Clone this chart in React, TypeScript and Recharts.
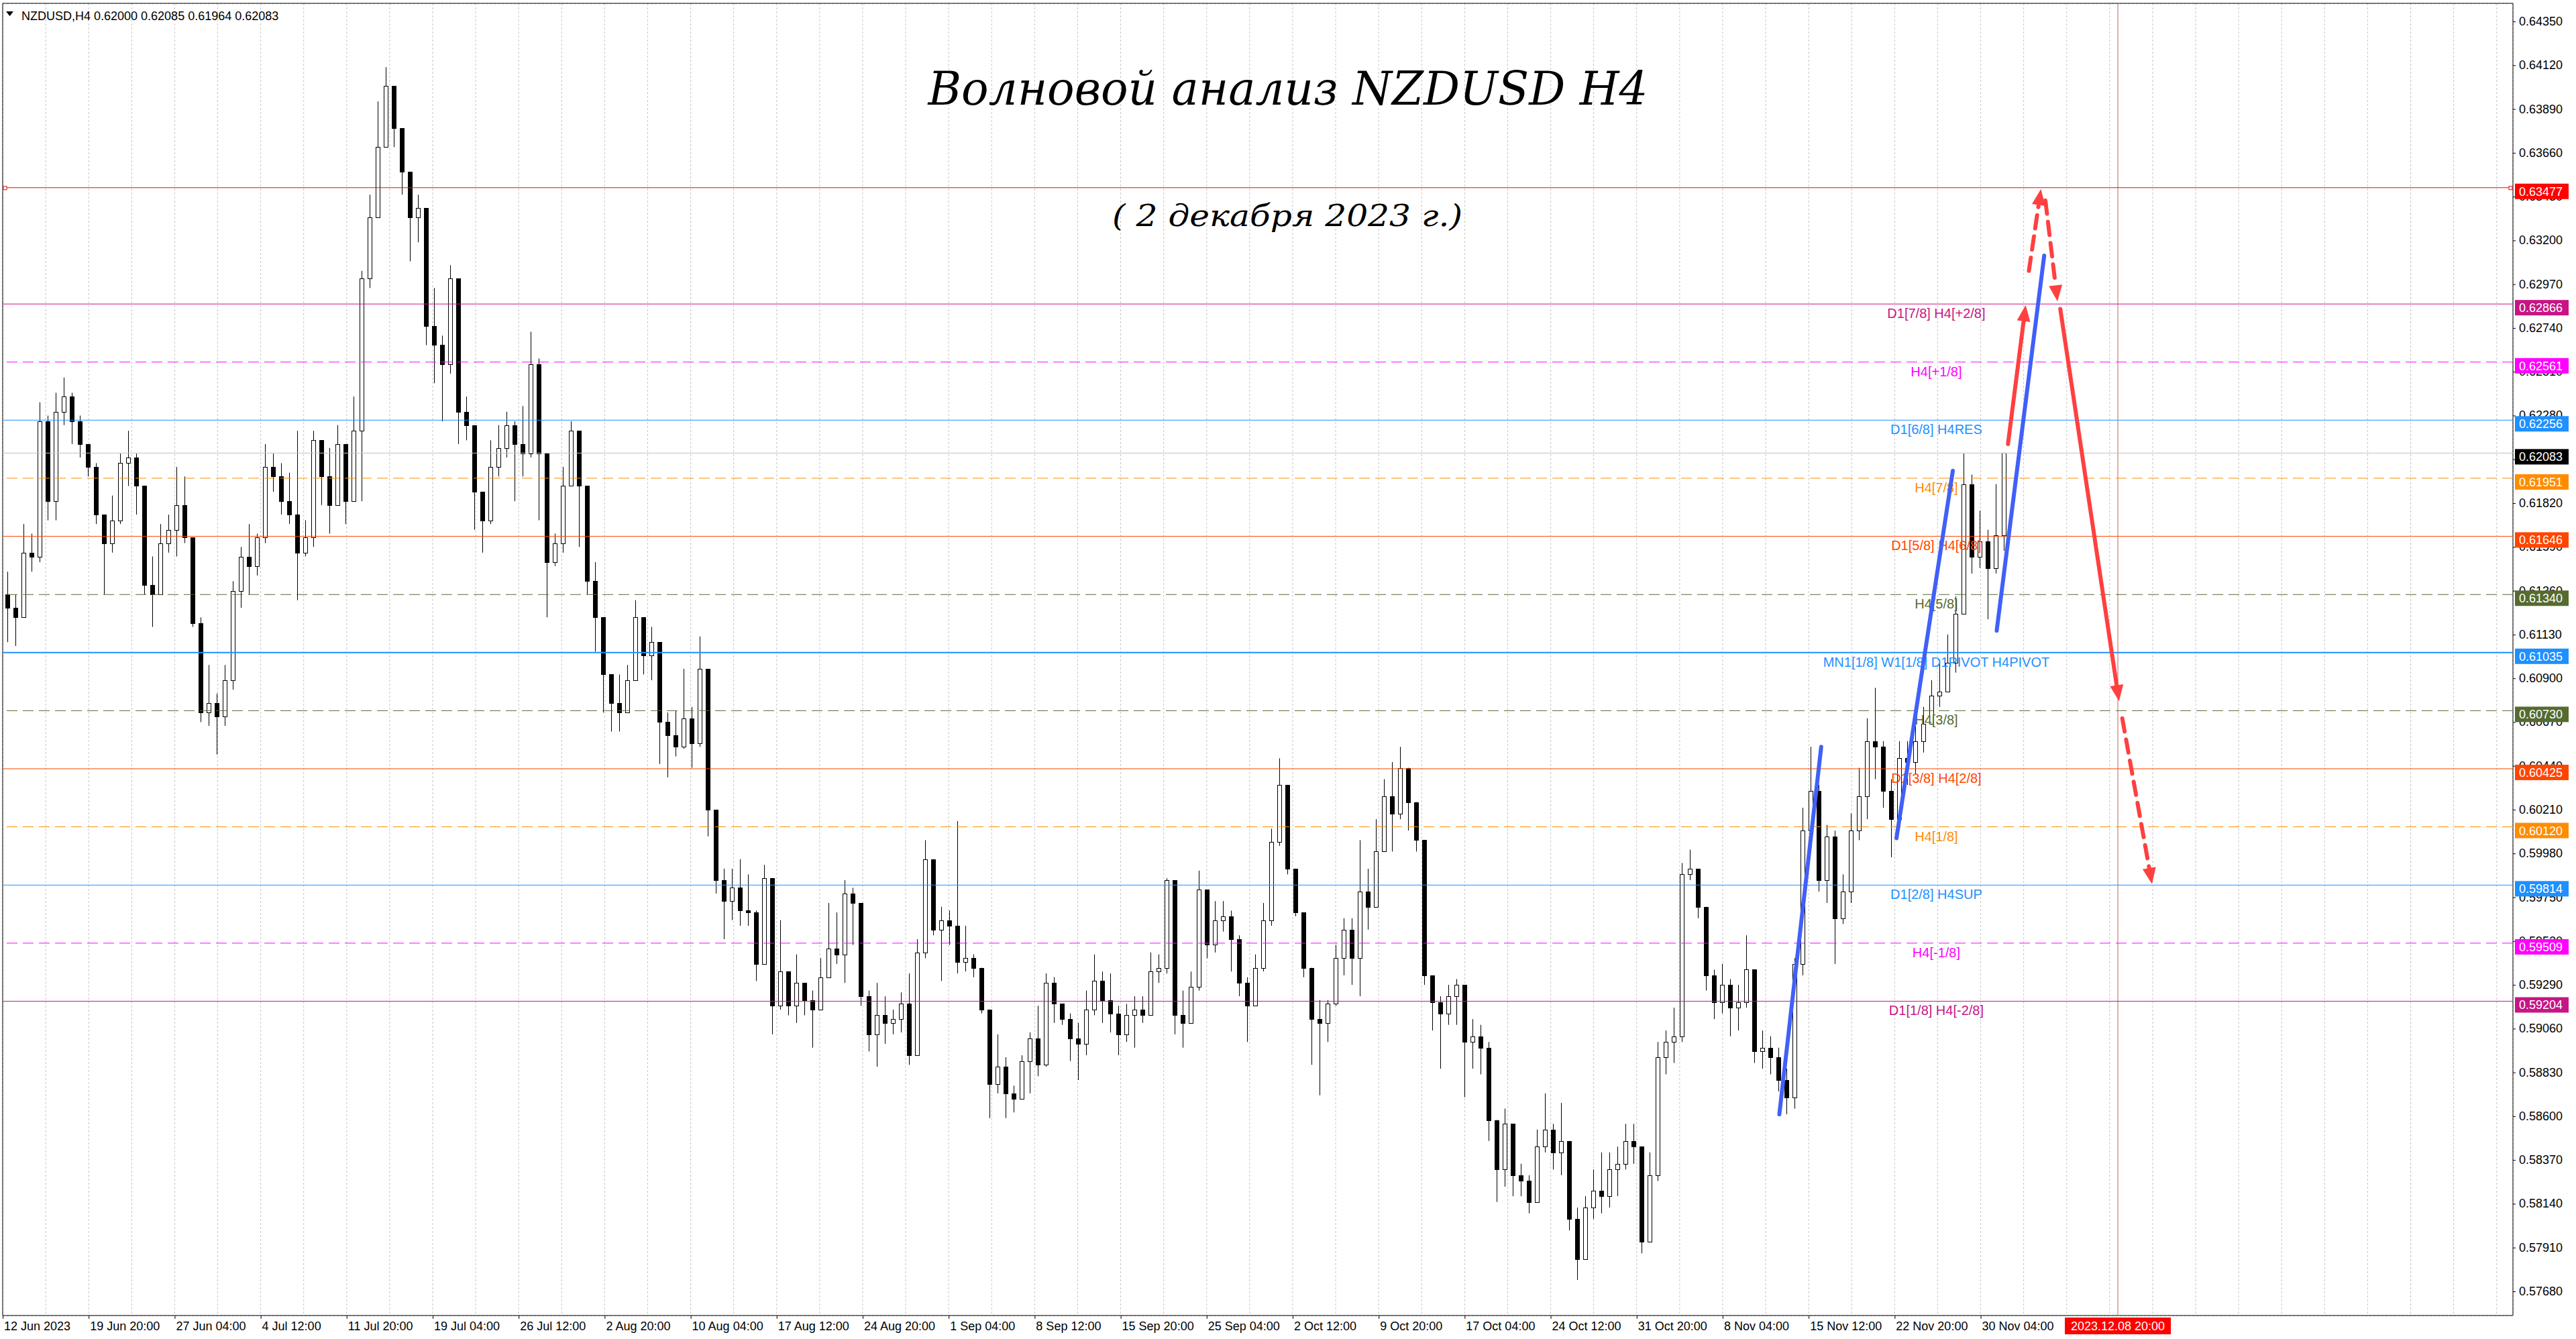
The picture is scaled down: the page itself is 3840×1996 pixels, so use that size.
import React from 'react'
import {
  ComposedChart,
  Bar,
  XAxis,
  YAxis,
  CartesianGrid,
  ReferenceLine,
  ReferenceArea,
} from 'recharts'

const W = 3840
const H = 1996
const FONT = '"Liberation Sans", Arial, sans-serif'

// price window of the terminal and 12h slots across the plot
const P_MIN = 0.575532
const P_MAX = 0.644451
const X_MAX = 311.83
const GRID_STEP = 5.3415
const LABEL_SLOT = 240.2

const SYMBOL = 'NZDUSD,H4'
const LAST_BAR_OHLC = ['0.62000', '0.62085', '0.61964', '0.62083']

// one candle = 12 hours
const OPEN_FIRST = 0.6134
const CLOSES = [
  0.6127, 0.6122, 0.6156, 0.6154, 0.6225, 0.6183, 0.6230, 0.6238, 0.6225, 0.6213,
  0.6201, 0.6176, 0.6161, 0.6173, 0.6203, 0.6206, 0.6191, 0.6139, 0.6134, 0.6161,
  0.6168, 0.6181, 0.6164, 0.6119, 0.6072, 0.6077, 0.6070, 0.6089, 0.6136, 0.6154,
  0.6149, 0.6164, 0.6201, 0.6196, 0.6183, 0.6176, 0.6156, 0.6164, 0.6215, 0.6196,
  0.6181, 0.6213, 0.6183, 0.6220, 0.6300, 0.6332, 0.6369, 0.6401, 0.6379, 0.6356,
  0.6332, 0.6337, 0.6275, 0.6265, 0.6255, 0.6300, 0.6230, 0.6223, 0.6188, 0.6173,
  0.6201, 0.6211, 0.6223, 0.6213, 0.6208, 0.6255, 0.6208, 0.6151, 0.6161, 0.6191,
  0.6220, 0.6191, 0.6141, 0.6122, 0.6092, 0.6077, 0.6072, 0.6089, 0.6122, 0.6102,
  0.6109, 0.6067, 0.6060, 0.6054, 0.6069, 0.6056, 0.6095, 0.6021, 0.5984, 0.5973,
  0.5980, 0.5968, 0.5967, 0.5940, 0.5985, 0.5918, 0.5936, 0.5918, 0.5930, 0.5921,
  0.5916, 0.5933, 0.5948, 0.5945, 0.5977, 0.5972, 0.5923, 0.5903, 0.5913, 0.5909,
  0.5911, 0.5919, 0.5892, 0.5946, 0.5995, 0.5958, 0.5963, 0.5960, 0.5941, 0.5943,
  0.5938, 0.5916, 0.5877, 0.5886, 0.5872, 0.5869, 0.5889, 0.5901, 0.5887, 0.5930,
  0.5919, 0.5911, 0.5901, 0.5898, 0.5916, 0.5931, 0.5921, 0.5914, 0.5903, 0.5913,
  0.5916, 0.5913, 0.5936, 0.5938, 0.5984, 0.5913, 0.5909, 0.5928, 0.5979, 0.5950,
  0.5963, 0.5965, 0.5953, 0.5930, 0.5918, 0.5938, 0.5963, 0.6004, 0.6034, 0.5990,
  0.5967, 0.5938, 0.5911, 0.5909, 0.5919, 0.5943, 0.5958, 0.5943, 0.5978, 0.5970,
  0.5999, 0.6028, 0.6019, 0.6043, 0.6025, 0.6005, 0.5934, 0.5920, 0.5914, 0.5923,
  0.5929, 0.5899, 0.5902, 0.5896, 0.5858, 0.5832, 0.5856, 0.5829, 0.5826, 0.5815,
  0.5844, 0.5853, 0.5841, 0.5847, 0.5806, 0.5785, 0.5812, 0.5821, 0.5818, 0.5832,
  0.5835, 0.5847, 0.5844, 0.5794, 0.5829, 0.5891, 0.5899, 0.5902, 0.5987, 0.5990,
  0.5970, 0.5934, 0.5920, 0.5929, 0.5917, 0.5920, 0.5937, 0.5894, 0.5896, 0.5891,
  0.5879, 0.5870, 0.5940, 0.6010, 0.6031, 0.5984, 0.6007, 0.5964, 0.5978, 0.6010,
  0.6028, 0.6057, 0.6054, 0.6031, 0.6016, 0.6048, 0.6046, 0.6057, 0.6066, 0.6081,
  0.6083, 0.6098, 0.6124, 0.6192, 0.6154, 0.6162, 0.6148, 0.6165, 0.62083,
]
const HIGHS = [
  0.6146, 0.6134, 0.6171, 0.6166, 0.6235, 0.6228, 0.6240, 0.6248, 0.6240, 0.6228,
  0.6208, 0.6203, 0.6173, 0.6186, 0.6208, 0.6220, 0.6208, 0.6191, 0.6154, 0.6171,
  0.6176, 0.6201, 0.6196, 0.6164, 0.6122, 0.6097, 0.6082, 0.6097, 0.6141, 0.6159,
  0.6171, 0.6166, 0.6213, 0.6208, 0.6203, 0.6198, 0.6220, 0.6173, 0.6220, 0.6213,
  0.6211, 0.6223, 0.6201, 0.6238, 0.6304, 0.6344, 0.6393, 0.6411, 0.6393, 0.6369,
  0.6344, 0.6344, 0.6337, 0.6295, 0.6270, 0.6307, 0.6285, 0.6238, 0.6201, 0.6186,
  0.6215, 0.6223, 0.6230, 0.6225, 0.6233, 0.6272, 0.6258, 0.6176, 0.6166, 0.6201,
  0.6225, 0.6211, 0.6164, 0.6151, 0.6104, 0.6089, 0.6092, 0.6097, 0.6131, 0.6114,
  0.6117, 0.6097, 0.6072, 0.6073, 0.6095, 0.6075, 0.6112, 0.6095, 0.6017, 0.5990,
  0.5990, 0.5995, 0.5987, 0.5968, 0.5992, 0.5952, 0.5963, 0.5936, 0.5945, 0.5930,
  0.5926, 0.5943, 0.5972, 0.5967, 0.5984, 0.5980, 0.5950, 0.5926, 0.5930, 0.5923,
  0.5916, 0.5925, 0.5935, 0.5953, 0.6005, 0.5977, 0.5970, 0.5968, 0.6015, 0.5960,
  0.5945, 0.5938, 0.5916, 0.5903, 0.5891, 0.5876, 0.5892, 0.5904, 0.5918, 0.5935,
  0.5933, 0.5919, 0.5914, 0.5909, 0.5926, 0.5945, 0.5936, 0.5935, 0.5918, 0.5919,
  0.5923, 0.5923, 0.5946, 0.5945, 0.5985, 0.5963, 0.5926, 0.5936, 0.5989, 0.5973,
  0.5973, 0.5973, 0.5968, 0.5955, 0.5933, 0.5945, 0.5972, 0.6011, 0.6048, 0.6007,
  0.5984, 0.5953, 0.5936, 0.5921, 0.5921, 0.5950, 0.5964, 0.5964, 0.6005, 0.5990,
  0.6016, 0.6037, 0.6046, 0.6054, 0.6040, 0.6022, 0.6005, 0.5929, 0.5923, 0.5929,
  0.5932, 0.5929, 0.5911, 0.5908, 0.5899, 0.5856, 0.5864, 0.5841, 0.5835, 0.5829,
  0.5853, 0.5872, 0.5856, 0.5867, 0.5847, 0.5812, 0.5818, 0.5832, 0.5841, 0.5841,
  0.5844, 0.5856, 0.5856, 0.5844, 0.5841, 0.5899, 0.5905, 0.5917, 0.5993, 0.6000,
  0.5990, 0.5970, 0.5937, 0.5940, 0.5932, 0.5929, 0.5955, 0.5937, 0.5905, 0.5902,
  0.5896, 0.5885, 0.5943, 0.6022, 0.6054, 0.6034, 0.6013, 0.6010, 0.5987, 0.6019,
  0.6043, 0.6069, 0.6085, 0.6057, 0.6037, 0.6057, 0.6057, 0.6066, 0.6075, 0.6089,
  0.6098, 0.6113, 0.6133, 0.6208, 0.6197, 0.6178, 0.6168, 0.6192, 0.62085,
]
const LOWS = [
  0.6109, 0.6107, 0.6122, 0.6146, 0.6151, 0.6173, 0.6173, 0.6223, 0.6213, 0.6206,
  0.6196, 0.6171, 0.6134, 0.6156, 0.6171, 0.6191, 0.6176, 0.6134, 0.6117, 0.6134,
  0.6156, 0.6154, 0.6161, 0.6117, 0.6067, 0.6065, 0.6050, 0.6065, 0.6084, 0.6127,
  0.6134, 0.6144, 0.6161, 0.6188, 0.6176, 0.6171, 0.6131, 0.6154, 0.6159, 0.6181,
  0.6166, 0.6186, 0.6171, 0.6196, 0.6183, 0.6295, 0.6344, 0.6369, 0.6369, 0.6344,
  0.6309, 0.6319, 0.6265, 0.6245, 0.6225, 0.6250, 0.6213, 0.6215, 0.6168, 0.6156,
  0.6171, 0.6196, 0.6206, 0.6183, 0.6196, 0.6206, 0.6173, 0.6122, 0.6149, 0.6156,
  0.6196, 0.6159, 0.6134, 0.6104, 0.6072, 0.6062, 0.6062, 0.6075, 0.6097, 0.6092,
  0.6089, 0.6045, 0.6038, 0.6049, 0.6053, 0.6043, 0.6054, 0.6007, 0.5977, 0.5953,
  0.5963, 0.5960, 0.5960, 0.5931, 0.5950, 0.5903, 0.5916, 0.5913, 0.5909, 0.5913,
  0.5896, 0.5919, 0.5933, 0.5940, 0.5930, 0.5950, 0.5918, 0.5894, 0.5886, 0.5898,
  0.5903, 0.5904, 0.5887, 0.5940, 0.5943, 0.5955, 0.5931, 0.5950, 0.5935, 0.5936,
  0.5933, 0.5914, 0.5859, 0.5872, 0.5859, 0.5862, 0.5876, 0.5872, 0.5881, 0.5886,
  0.5909, 0.5908, 0.5889, 0.5879, 0.5892, 0.5913, 0.5909, 0.5904, 0.5892, 0.5899,
  0.5896, 0.5909, 0.5923, 0.5930, 0.5935, 0.5903, 0.5896, 0.5918, 0.5926, 0.5943,
  0.5946, 0.5957, 0.5936, 0.5923, 0.5899, 0.5926, 0.5936, 0.5960, 0.6002, 0.5987,
  0.5965, 0.5933, 0.5887, 0.5871, 0.5899, 0.5918, 0.5934, 0.5929, 0.5923, 0.5958,
  0.5970, 0.6007, 0.5999, 0.6016, 0.6010, 0.5999, 0.5929, 0.5905, 0.5885, 0.5908,
  0.5908, 0.5870, 0.5885, 0.5882, 0.5847, 0.5815, 0.5823, 0.5818, 0.5818, 0.5809,
  0.5815, 0.5841, 0.5832, 0.5829, 0.5800, 0.5774, 0.5788, 0.5806, 0.5809, 0.5812,
  0.5818, 0.5832, 0.5835, 0.5788, 0.5806, 0.5826, 0.5882, 0.5888, 0.5899, 0.5984,
  0.5964, 0.5926, 0.5911, 0.5914, 0.5902, 0.5905, 0.5917, 0.5888, 0.5885, 0.5882,
  0.5873, 0.5861, 0.5864, 0.5934, 0.6010, 0.5978, 0.5972, 0.5940, 0.5961, 0.5972,
  0.6005, 0.6016, 0.6037, 0.6022, 0.5996, 0.6013, 0.6034, 0.6040, 0.6051, 0.6066,
  0.6075, 0.6083, 0.6093, 0.6124, 0.6145, 0.6148, 0.6121, 0.6145, 0.6157,
]

const PRICE_TICKS = [
  0.5768, 0.5791, 0.5814, 0.5837, 0.586, 0.5883, 0.5906, 0.5929, 0.5952, 0.5975,
  0.5998, 0.6021, 0.6044, 0.6067, 0.609, 0.6113, 0.6136, 0.6159, 0.6182, 0.6205,
  0.6228, 0.6251, 0.6274, 0.6297, 0.632, 0.6343, 0.6366, 0.6389, 0.6412, 0.6435,
]

const TIME_LABELS = [
  '12 Jun 2023', '19 Jun 20:00', '27 Jun 04:00', '4 Jul 12:00', '11 Jul 20:00',
  '19 Jul 04:00', '26 Jul 12:00', '2 Aug 20:00', '10 Aug 04:00', '17 Aug 12:00',
  '24 Aug 20:00', '1 Sep 04:00', '8 Sep 12:00', '15 Sep 20:00', '25 Sep 04:00',
  '2 Oct 12:00', '9 Oct 20:00', '17 Oct 04:00', '24 Oct 12:00', '31 Oct 20:00',
  '8 Nov 04:00', '15 Nov 12:00', '22 Nov 20:00', '30 Nov 04:00',
]
const FUTURE_SLOT = 262.75
const FUTURE_LABEL = '2023.12.08 20:00'

// murrey levels
const LEVEL_PRICES = [
  0.63477, 0.62866, 0.62561, 0.62256, 0.61951, 0.61646, 0.6134,
  0.61035, 0.6073, 0.60425, 0.6012, 0.59814, 0.59509, 0.59204,
]
const LEVEL_TEXTS = [
  '', 'D1[7/8] H4[+2/8]', 'H4[+1/8]', 'D1[6/8] H4RES', 'H4[7/8]', 'D1[5/8] H4[6/8]', 'H4[5/8]',
  'MN1[1/8] W1[1/8] D1PIVOT H4PIVOT', 'H4[3/8]', 'D1[3/8] H4[2/8]', 'H4[1/8]', 'D1[2/8] H4SUP',
  'H4[-1/8]', 'D1[1/8] H4[-2/8]',
]
const LEVEL_STYLES = [
  { color: '#FF0000', dash: false, w: 1 },
  { color: '#C71585', dash: false, w: 1 },
  { color: '#FF00FF', dash: true, w: 1 },
  { color: '#1E90FF', dash: false, w: 1 },
  { color: '#FF8C00', dash: true, w: 1 },
  { color: '#FF4500', dash: false, w: 1 },
  { color: '#556B2F', dash: true, w: 1 },
  { color: '#1E90FF', dash: false, w: 2 },
  { color: '#556B2F', dash: true, w: 1 },
  { color: '#FF4500', dash: false, w: 1 },
  { color: '#FF8C00', dash: true, w: 1 },
  { color: '#1E90FF', dash: false, w: 1 },
  { color: '#FF00FF', dash: true, w: 1 },
  { color: '#C71585', dash: false, w: 1 },
]

// hand drawn wave marks: [slot1, price1, slot2, price2]
const BLUE_WAVES = [
  [220.7, 0.5861, 225.9, 0.6054],
  [235.25, 0.6006, 242.25, 0.6199],
  [247.7, 0.6115, 253.6, 0.6312],
]
const RED_ARROWS = [
  [249.1, 0.6213, 251.3, 0.6286],
  [255.6, 0.6284, 262.9, 0.6078],
]
const RED_DASHED_ARROWS = [
  [251.7, 0.6304, 253.2, 0.6347],
  [253.75, 0.6341, 255.25, 0.6288],
  [263.3, 0.6069, 267.0, 0.5982],
]

const rows = CLOSES.map((close, i) => {
  const open = i === 0 ? OPEN_FIRST : CLOSES[i - 1]
  const high = Math.max(HIGHS[i], open, close)
  const low = Math.min(LOWS[i], open, close)
  return { slot: i + 0.5, open, close, high, low, range: [low, high] }
})

const gridSlots = Array.from({ length: 59 }, (_, j) => +(j * GRID_STEP).toFixed(4))

function Candle(props: any) {
  const { x, y, width, height, payload } = props
  if (x == null || !payload) return null
  const { open, close, high, low } = payload
  const h = Math.abs(height)
  const top = Math.min(y, y + height)
  const k = high - low > 0 ? h / (high - low) : 0
  const yOf = (p: number) => top + (high - p) * k
  const cx = Math.round(x + width / 2) + 0.5
  const bTop = Math.round(yOf(Math.max(open, close))) + 0.5
  const bBot = Math.round(yOf(Math.min(open, close))) + 0.5
  const up = close >= open
  return (
    <g>
      <line x1={cx} x2={cx} y1={top} y2={top + h} stroke="#000" strokeWidth={1} />
      <rect
        x={cx - 3}
        y={bTop}
        width={6}
        height={Math.max(1, bBot - bTop)}
        fill={up ? '#fff' : '#000'}
        stroke="#000"
        strokeWidth={1}
      />
    </g>
  )
}

function TimeTick(props: any) {
  const { x, y, payload } = props
  const j = Math.round(payload.value / GRID_STEP)
  if (j % 2 !== 0 || j / 2 >= TIME_LABELS.length) return null
  return (
    <g>
      <line x1={x + 0.5} x2={x + 0.5} y1={y} y2={y + 5} stroke="#000" />
      <text x={x + 2} y={y + 22} fontSize={18} fontFamily={FONT} fill="#000">
        {TIME_LABELS[j / 2]}
      </text>
    </g>
  )
}

// price scale labels, drawn under the coloured level boxes
const priceTickLabel = (p: number) => (lp: any) => {
  const vb = lp && lp.viewBox
  if (!vb) return null
  const right = vb.x + vb.width
  return (
    <g>
      <line x1={right} x2={right + 4} y1={vb.y + 0.5} y2={vb.y + 0.5} stroke="#000" />
      <text x={right + 9} y={vb.y + 6} fontSize={18} fontFamily={FONT} fill="#000">
        {p.toFixed(5)}
      </text>
    </g>
  )
}

const levelLabel = (i: number) => (lp: any) => {
  const vb = lp && lp.viewBox
  if (!vb) return null
  const { x, y, width } = vb
  const st = LEVEL_STYLES[i]
  const right = x + width
  const cx = x + (LABEL_SLOT / X_MAX) * width
  return (
    <g>
      {LEVEL_TEXTS[i] ? (
        <text x={cx} y={y + 21} textAnchor="middle" fontSize={20} fontFamily={FONT} fill={st.color}>
          {LEVEL_TEXTS[i]}
        </text>
      ) : null}
      {i === 0 ? (
        <g>
          <rect x={x + 1} y={y - 2} width={5} height={5} fill="#fff" stroke={st.color} />
          <rect x={right - 6} y={y - 2} width={5} height={5} fill="#fff" stroke={st.color} />
        </g>
      ) : null}
      <rect x={right + 3} y={y - 6} width={80} height={23} fill={st.color} />
      <text x={right + 9} y={y + 12} fontSize={18} fontFamily={FONT} fill="#fff">
        {LEVEL_PRICES[i].toFixed(5)}
      </text>
    </g>
  )
}

const bidLabel = (lp: any) => {
  const vb = lp && lp.viewBox
  if (!vb) return null
  const right = vb.x + vb.width
  return (
    <g>
      <rect x={right + 3} y={vb.y - 6} width={80} height={23} fill="#000" />
      <text x={right + 9} y={vb.y + 12} fontSize={18} fontFamily={FONT} fill="#fff">
        {CLOSES[CLOSES.length - 1].toFixed(5)}
      </text>
    </g>
  )
}

const futureLabel = (lp: any) => {
  const vb = lp && lp.viewBox
  if (!vb) return null
  const bottom = vb.y + vb.height
  return (
    <g>
      <rect x={vb.x - 79} y={bottom + 3} width={158} height={25} fill="#FF0000" />
      <text x={vb.x} y={bottom + 22} textAnchor="middle" fontSize={18} fontFamily={FONT} fill="#fff">
        {FUTURE_LABEL}
      </text>
    </g>
  )
}

const arrowShape = (color: string, dashed: boolean, head: boolean) => (p: any) => {
  const { x1, y1, x2, y2 } = p
  if (x1 == null) return null
  const dx = x2 - x1
  const dy = y2 - y1
  const len = Math.sqrt(dx * dx + dy * dy) || 1
  const ux = dx / len
  const uy = dy / len
  const L = head ? 24 : 0
  const bx = x2 - ux * L
  const by = y2 - uy * L
  const nx = -uy * 10
  const ny = ux * 10
  return (
    <g>
      <line
        x1={x1}
        y1={y1}
        x2={head ? bx : x2}
        y2={head ? by : y2}
        stroke={color}
        strokeWidth={6}
        strokeLinecap="round"
        strokeDasharray={dashed ? '20 12' : undefined}
      />
      {head ? (
        <polygon points={`${x2},${y2} ${bx + nx},${by + ny} ${bx - nx},${by - ny}`} fill={color} />
      ) : null}
    </g>
  )
}

export default function App() {
  return (
    <div
      style={{
        position: 'fixed',
        left: 0,
        top: 0,
        width: W,
        height: H,
        background: '#fff',
        overflow: 'hidden',
      }}
    >
      <ComposedChart
        width={W}
        height={H}
        data={rows}
        margin={{ top: 5, right: 0, left: 4, bottom: 0 }}
      >
        <CartesianGrid stroke="#C4C4C4" strokeDasharray="3 3" />
        <XAxis
          dataKey="slot"
          type="number"
          domain={[0, X_MAX]}
          allowDataOverflow
          ticks={gridSlots}
          interval={0}
          height={35}
          tickSize={0}
          tickMargin={0}
          tickLine={false}
          axisLine={false}
          tick={<TimeTick />}
        />
        <YAxis
          orientation="right"
          type="number"
          domain={[P_MIN, P_MAX]}
          allowDataOverflow
          ticks={PRICE_TICKS}
          interval={0}
          width={94}
          tick={false}
          tickLine={false}
          axisLine={false}
        />
        {PRICE_TICKS.map((p) => (
          <ReferenceLine key={'pt' + p} y={p} stroke="none" label={priceTickLabel(p)} />
        ))}
        <ReferenceLine x={FUTURE_SLOT} stroke="#C86060" strokeWidth={1} label={futureLabel} />
        {LEVEL_PRICES.map((p, i) => (
          <ReferenceLine
            key={'lv' + i}
            y={p}
            stroke={LEVEL_STYLES[i].color}
            strokeWidth={LEVEL_STYLES[i].w}
            strokeDasharray={LEVEL_STYLES[i].dash ? '16 8' : undefined}
            label={levelLabel(i)}
          />
        ))}
        <ReferenceLine y={CLOSES[CLOSES.length - 1]} stroke="#C0C0C0" strokeWidth={1} label={bidLabel} />
        <Bar dataKey="range" barSize={7} shape={<Candle />} isAnimationActive={false} />
        {BLUE_WAVES.map((s, i) => (
          <ReferenceLine
            key={'bw' + i}
            segment={[{ x: s[0], y: s[1] }, { x: s[2], y: s[3] }]}
            ifOverflow="visible"
            shape={arrowShape('#4060F8', false, false)}
          />
        ))}
        {RED_ARROWS.map((s, i) => (
          <ReferenceLine
            key={'ra' + i}
            segment={[{ x: s[0], y: s[1] }, { x: s[2], y: s[3] }]}
            ifOverflow="visible"
            shape={arrowShape('#FF4040', false, true)}
          />
        ))}
        {RED_DASHED_ARROWS.map((s, i) => (
          <ReferenceLine
            key={'rd' + i}
            segment={[{ x: s[0], y: s[1] }, { x: s[2], y: s[3] }]}
            ifOverflow="visible"
            shape={arrowShape('#FF4040', true, true)}
          />
        ))}
        <ReferenceArea
          x1={0}
          x2={X_MAX}
          y1={P_MIN}
          y2={P_MAX}
          fill="none"
          fillOpacity={0}
          stroke="#000"
          strokeWidth={1}
          ifOverflow="visible"
        />
      </ComposedChart>
      <svg
        width={W}
        height={400}
        style={{ position: 'absolute', left: 0, top: 0, pointerEvents: 'none' }}
      >
        <polygon points="9,17 20,17 14.5,24" fill="#000" />
        <text x={32} y={30} fontSize={18} fontFamily={FONT} fill="#000">
          {SYMBOL + '  ' + LAST_BAR_OHLC.join(' ')}
        </text>
        <text
          x={1920}
          y={156}
          textAnchor="middle"
          fontSize={70}
          fontStyle="italic"
          fontFamily='"DejaVu Serif", serif'
          textLength={1073}
          lengthAdjust="spacingAndGlyphs"
          fill="#000"
        >
          Волновой анализ NZDUSD H4
        </text>
        <text
          x={1919}
          y={337}
          textAnchor="middle"
          fontSize={44}
          fontStyle="italic"
          fontFamily='"DejaVu Serif", serif'
          textLength={522}
          lengthAdjust="spacingAndGlyphs"
          fill="#000"
        >
          ( 2 декабря 2023 г.)
        </text>
      </svg>
    </div>
  )
}
